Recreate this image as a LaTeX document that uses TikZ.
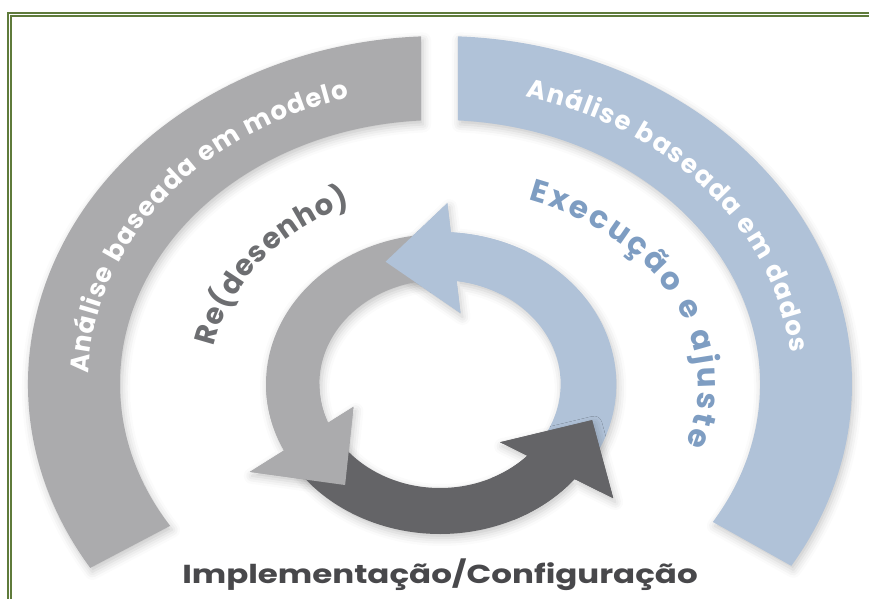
\documentclass[tikz,border=0pt]{standalone}
\usepackage{fontspec}
\usepackage{graphicx}
\newfontfamily\pf{Poppins}
\usetikzlibrary{decorations.text,shadows.blur}
\definecolor{frameg}{HTML}{5F7B3B}
\definecolor{arcgray}{HTML}{ABABAD}
\definecolor{arcblue}{HTML}{B0C2D8}
\definecolor{darkarr}{HTML}{646467}
\definecolor{txtgray}{HTML}{6D6E71}
\definecolor{txtblue}{HTML}{7E9DC2}
\definecolor{txtdark}{HTML}{48484B}
\tikzset{
  shad/.style={blur shadow={shadow xshift=2pt, shadow yshift=-4pt, shadow blur radius=8pt, shadow opacity=22}},
  arctext/.style={decorate, decoration={text along path, text align={fit to path}, text color=#1}},
}
% arrow outlines (band + head, both counter-clockwise)
\newcommand\blueArrowPath{(-35:152) arc[start angle=-35, end angle=87, radius=152] -- (87:104) arc[start angle=87, end angle=-35, radius=104] -- cycle
   (76:73) -- (88:181) -- (111:131) -- cycle}
\newcommand\grayArrowPath{(92:150) arc[start angle=92, end angle=207, radius=150] -- (207:104) arc[start angle=207, end angle=92, radius=104] -- cycle
   (197:78) -- (208.2:186) -- (231:130) -- cycle}
\newcommand\darkArrowPath{(212:150) arc[start angle=212, end angle=321.5, radius=150] -- (321.5:104) arc[start angle=321.5, end angle=212, radius=104] -- cycle
   (311.7:78) -- (322.6:188) -- (344.6:136) -- cycle}
\begin{document}
\begin{tikzpicture}[x=1pt,y=1pt]
\useasboundingbox (0,0) rectangle (869,598);
\clip (0,0) rectangle (869,598);
% frame
\draw[frameg, line width=1.7] (8,-20) -- (8,585) -- (900,585);
\draw[frameg, line width=1.7] (11,-20) -- (11,582) -- (900,582);
\begin{scope}[shift={(440,214)}]
  \coordinate (C) at (0,0);
  % big arcs
  \fill[arcgray, shad] (211.9:412 and 348) arc[start angle=211.9, end angle=92.64, x radius=412, y radius=348]
     -- (93.4:320 and 264) arc[start angle=93.4, end angle=212.5, x radius=320, y radius=264] -- cycle;
  \fill[arcblue, shad] (87.5:412 and 348) arc[start angle=87.5, end angle=-31.5, x radius=412, y radius=348]
     -- (-31.5:320 and 264) arc[start angle=-31.5, end angle=86.8, x radius=320, y radius=264] -- cycle;
  % arc texts
  \path[arctext=white] (178:352 and 296) arc[start angle=178, end angle=105, x radius=352, y radius=296]
     [decoration={text={|\pf\bfseries\fontsize{26}{26}\selectfont|Análise baseada em modelo}}];
  \path[arctext=white] (76:352 and 296) arc[start angle=76, end angle=6, x radius=352, y radius=296]
     [decoration={text={|\pf\bfseries\fontsize{26}{26}\selectfont|Análise baseada em dados}}];
  \path[arctext=txtgray] (169:230 and 194) arc[start angle=169, end angle=113, x radius=230, y radius=194]
     [decoration={text={|\pf\bfseries\fontsize{29}{29}\selectfont|Re(desenho)}}];
  \path[arctext=txtblue] (70:258 and 196) arc[start angle=70, end angle=-18, x radius=258, y radius=196]
     [decoration={text={|\pf\bfseries\fontsize{31}{31}\selectfont|Execução e ajuste}}];
  % cycle ring
  \begin{scope}[xscale=1.16]
    \fill[arcblue, shad] \blueArrowPath;
    \fill[arcgray, shad] \grayArrowPath;
    \fill[darkarr, shad] \darkArrowPath;
    % top layer: each head over the start of the next band
    \fill[arcblue] (60:152) arc[start angle=60, end angle=87, radius=152] -- (87:104) arc[start angle=87, end angle=60, radius=104] -- cycle
       (76:73) -- (88:181) -- (111:131) -- cycle;
    \fill[arcgray] (180:150) arc[start angle=180, end angle=207, radius=150] -- (207:104) arc[start angle=207, end angle=180, radius=104] -- cycle
       (197:78) -- (208.2:186) -- (231:130) -- cycle;
    \fill[darkarr] (295:150) arc[start angle=295, end angle=321.5, radius=150] -- (321.5:104) arc[start angle=321.5, end angle=295, radius=104] -- cycle
       (311.7:78) -- (322.6:188) -- (344.6:136) -- cycle;
  \end{scope}
\end{scope}
\node[anchor=base, text=txtdark, font=\pf\bfseries\fontsize{26}{26}\selectfont, inner sep=0] (bottomtext) at (440,15) {\scalebox{1.25}[1]{Implementação/Configuração}};
\end{tikzpicture}
\end{document}
